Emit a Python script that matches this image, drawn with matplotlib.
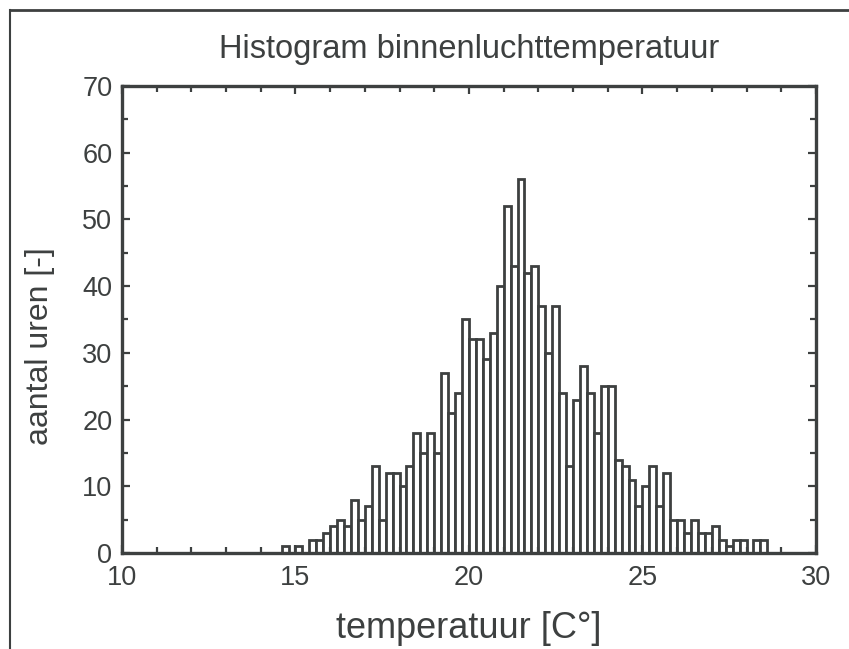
import matplotlib
matplotlib.use("Agg")
import matplotlib.pyplot as plt
from matplotlib.ticker import MultipleLocator
from matplotlib.lines import Line2D

plt.rcParams['font.family'] = ['Liberation Sans', 'DejaVu Sans']

# bin left edges (deg C), width 0.2
bin_start = 14.6
bin_width = 0.2
counts = [1, 0, 1, 0, 2, 2, 3, 4, 5, 4,      # 14.6 - 16.4
          8, 5, 7, 13, 5, 12, 12, 10, 13, 18,  # 16.6 - 18.4
          15, 18, 15, 27, 21, 24, 35, 32, 32, 29,  # 18.6 - 20.4
          33, 40, 52, 43, 56, 42, 43, 37, 30, 37,  # 20.6 - 22.4
          24, 13, 23, 28, 24, 18, 25, 25, 14, 13,  # 22.6 - 24.4
          11, 7, 10, 13, 7, 12, 5, 5, 3, 5,        # 24.6 - 26.4
          3, 3, 4, 2, 1, 2, 2, 0, 2, 2]            # 26.6 - 28.4
edges = [round(bin_start + i * bin_width, 2) for i in range(len(counts))]

title = "Histogram binnenluchttemperatuur"
xlabel = "temperatuur [C°]"
ylabel = "aantal uren [-]"
xticks = [10, 15, 20, 25, 30]
yticks = [0, 10, 20, 30, 40, 50, 60, 70]

ink = "#3d4040"

fig = plt.figure(figsize=(8.49, 6.49), dpi=100)
fig.patch.set_facecolor("white")
ax = fig.add_axes([0.1437, 0.148, 0.8173, 0.7195])

ax.bar(edges, counts, width=bin_width, align="edge", facecolor="white",
       edgecolor=ink, linewidth=2.0)

ax.set_xlim(10, 30)
ax.set_ylim(0, 70)
ax.set_xticks(xticks)
ax.set_yticks(yticks)
ax.xaxis.set_minor_locator(MultipleLocator(1))
ax.yaxis.set_minor_locator(MultipleLocator(5))
ax.tick_params(which="both", direction="in", top=True, right=True,
               color=ink, labelcolor=ink, labelsize=19.5, width=1.6)
ax.tick_params(which="major", length=6)
ax.tick_params(axis="x", which="major", pad=9)
ax.tick_params(axis="y", which="major", pad=7)
ax.tick_params(which="minor", length=4)
for s in ax.spines.values():
    s.set_color(ink)
    s.set_linewidth(2.4)

ax.set_title(title, fontsize=23.5, color=ink, pad=20)
ax.set_xlabel(xlabel, fontsize=26, color=ink, labelpad=14)
ax.set_ylabel(ylabel, fontsize=23, color=ink)
ax.yaxis.set_label_coords(-0.097, 0.443)

# scanned page frame
fig.add_artist(Line2D([0.012, 0.012], [0.0, 0.985], transform=fig.transFigure,
                      color=ink, linewidth=1.5))
fig.add_artist(Line2D([0.012, 1.0], [0.985, 0.985], transform=fig.transFigure,
                      color=ink, linewidth=2.0))

fig.savefig("out.png", dpi=100, facecolor="white")
